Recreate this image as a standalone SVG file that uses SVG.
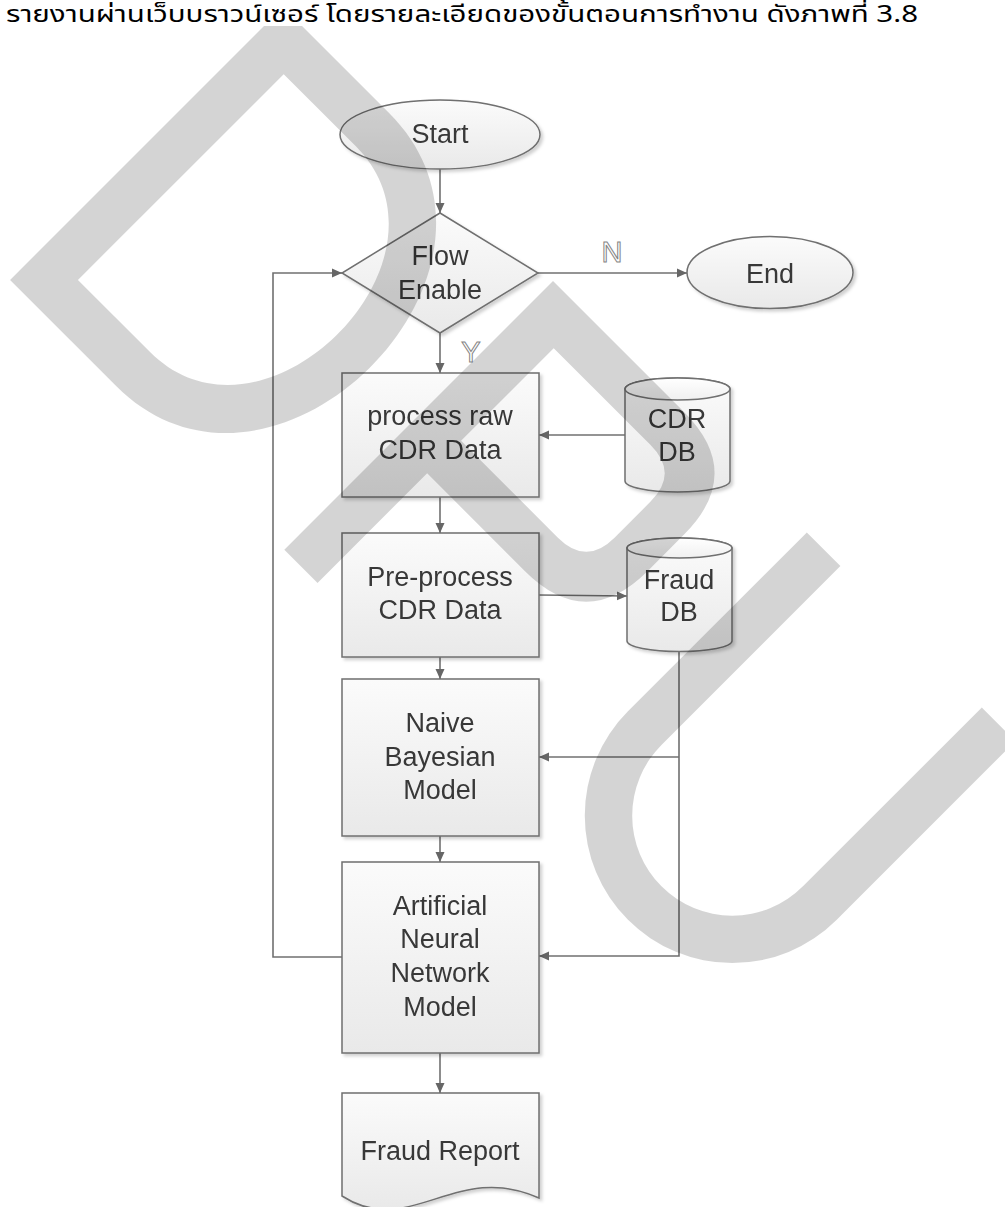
<svg xmlns="http://www.w3.org/2000/svg" width="1005" height="1207" viewBox="0 0 1005 1207">
<style>
.lbl{font-family:"Liberation Sans",Arial,sans-serif;font-size:27px;fill:#383838;text-anchor:middle}
.yn{font-family:"Liberation Sans",Arial,sans-serif;font-size:29px;fill:#ffffff;stroke:#858585;stroke-width:1;text-anchor:middle}
.shape{stroke:#6f6f6f;stroke-width:1.5}
.conn{fill:none;stroke:#707070;stroke-width:1.6}
.wm{fill:#000;fill-opacity:0.17;fill-rule:evenodd}
</style>
<defs>
<linearGradient id="gBox" x1="0" y1="0" x2="0" y2="1">
<stop offset="0" stop-color="#fbfbfb"/>
<stop offset="1" stop-color="#e9e9e9"/>
</linearGradient>
<linearGradient id="gTop" x1="0" y1="0" x2="0" y2="1">
<stop offset="0" stop-color="#ffffff"/>
<stop offset="1" stop-color="#f0f0f0"/>
</linearGradient>
<filter id="sh" x="-10%" y="-10%" width="130%" height="130%">
<feDropShadow dx="2.5" dy="2.5" stdDeviation="1.5" flood-color="#000" flood-opacity="0.18"/>
</filter>
<marker id="arr" viewBox="0 0 10 10" refX="10" refY="5" markerWidth="10" markerHeight="10" orient="auto" markerUnits="userSpaceOnUse">
<path d="M0,0.5 L10,5 L0,9.5 z" fill="#666"/>
</marker>
</defs>
<rect x="0" y="0" width="1005" height="1207" fill="#ffffff"/>

<g id="connectors">
<path class="conn" d="M440,169 L440,213" marker-end="url(#arr)"/>
<path class="conn" d="M538,273 L687,273" marker-end="url(#arr)"/>
<path class="conn" d="M440,333 L440,373" marker-end="url(#arr)"/>
<path class="conn" d="M625,435 L539,435" marker-end="url(#arr)"/>
<path class="conn" d="M440,497 L440,533" marker-end="url(#arr)"/>
<path class="conn" d="M539,595 L627,596" marker-end="url(#arr)"/>
<path class="conn" d="M440,657 L440,679" marker-end="url(#arr)"/>
<path class="conn" d="M679,652 L679,956 L539,956" marker-end="url(#arr)"/>
<path class="conn" d="M679,757 L539,757" marker-end="url(#arr)"/>
<path class="conn" d="M440,836 L440,862" marker-end="url(#arr)"/>
<path class="conn" d="M342,957 L273,957 L273,273 L342,273" marker-end="url(#arr)"/>
<path class="conn" d="M440,1053 L440,1093" marker-end="url(#arr)"/>
<text class="yn" x="612" y="262">N</text>
<text class="yn" x="471" y="362">Y</text>
</g>

<g id="start" filter="url(#sh)">
<ellipse class="shape" cx="440" cy="134.5" rx="100" ry="34.5" fill="url(#gBox)"/>
<text class="lbl" x="440" y="143">Start</text>
</g>

<g id="flow-enable" filter="url(#sh)">
<polygon class="shape" points="440,213 538,273 440,333 342,273" fill="url(#gBox)"/>
<text class="lbl" x="440" y="265">Flow</text>
<text class="lbl" x="440" y="299">Enable</text>
</g>

<g id="end" filter="url(#sh)">
<ellipse class="shape" cx="770" cy="272.5" rx="83" ry="36" fill="url(#gBox)"/>
<text class="lbl" x="770" y="283">End</text>
</g>

<g id="process-raw" filter="url(#sh)">
<rect class="shape" x="342" y="373" width="197" height="124" fill="url(#gBox)"/>
<text class="lbl" x="440" y="425">process raw</text>
<text class="lbl" x="440" y="459">CDR Data</text>
</g>

<g id="cdr-db" filter="url(#sh)">
<path class="shape" d="M625,389 L625,481 A52.5,11 0 0 0 730,481 L730,389 A52.5,11 0 0 0 625,389 Z" fill="url(#gBox)"/>
<ellipse class="shape" cx="677.5" cy="389" rx="52.5" ry="11" fill="url(#gTop)"/>
<text class="lbl" x="677" y="428">CDR</text>
<text class="lbl" x="677" y="461">DB</text>
</g>

<g id="pre-process" filter="url(#sh)">
<rect class="shape" x="342" y="533" width="197" height="124" fill="url(#gBox)"/>
<text class="lbl" x="440" y="586">Pre-process</text>
<text class="lbl" x="440" y="619">CDR Data</text>
</g>

<g id="fraud-db" filter="url(#sh)">
<path class="shape" d="M627,548 L627,641 A52.5,10.5 0 0 0 732,641 L732,548 A52.5,10 0 0 0 627,548 Z" fill="url(#gBox)"/>
<ellipse class="shape" cx="679.5" cy="548" rx="52.5" ry="10" fill="url(#gTop)"/>
<text class="lbl" x="679" y="589">Fraud</text>
<text class="lbl" x="679" y="621">DB</text>
</g>

<g id="naive-bayes" filter="url(#sh)">
<rect class="shape" x="342" y="679" width="197" height="157" fill="url(#gBox)"/>
<text class="lbl" x="440" y="732">Naive</text>
<text class="lbl" x="440" y="766">Bayesian</text>
<text class="lbl" x="440" y="799">Model</text>
</g>

<g id="ann" filter="url(#sh)">
<rect class="shape" x="342" y="862" width="197" height="191" fill="url(#gBox)"/>
<text class="lbl" x="440" y="915">Artificial</text>
<text class="lbl" x="440" y="948">Neural</text>
<text class="lbl" x="440" y="982">Network</text>
<text class="lbl" x="440" y="1016">Model</text>
</g>

<g id="fraud-report" filter="url(#sh)">
<path class="shape" d="M342,1093 L539,1093 L539,1198 C455,1160 410,1240 342,1196 Z" fill="url(#gBox)"/>
<text class="lbl" x="440" y="1160">Fraud Report</text>
</g>

<g id="watermark">
<path class="wm" transform="matrix(-0.7071,0.7071,0.7071,0.7071,283,7)" d="M0,0 L0,150 C0,372 386,372 386,150 L386,0 Z M47,48 L47,150 C47,310 338,310 338,150 L338,48 Z"/>
<path class="wm" transform="matrix(-0.7071,0.7071,0.7071,0.7071,553,281)" d="M0,0 L0,185 Q0,272 87,272 L138,272 Q225,272 225,185 L225,47 L380,47 L380,0 Z M47,48 L47,185 Q47,225 87,225 L138,225 Q178,225 178,185 L178,48 Z"/>
<path class="wm" transform="rotate(45)" d="M947,-194 L947,59 A147.5,147.5 0 0 0 1242,59 L1242,-194 L1194.5,-194 L1194.5,59 A100,100 0 0 1 994.5,59 L994.5,-194 Z"/>
</g>

<rect x="0" y="0" width="1005" height="26" fill="#ffffff"/>
<text x="6" y="22" font-family="'Noto Sans Thai','Liberation Serif','DejaVu Serif',serif" font-size="23" fill="#000" textLength="912" lengthAdjust="spacingAndGlyphs">รายงานผ่านเว็บบราวน์เซอร์ โดยรายละเอียดของขั้นตอนการทำงาน ดังภาพที่ 3.8</text>
</svg>
